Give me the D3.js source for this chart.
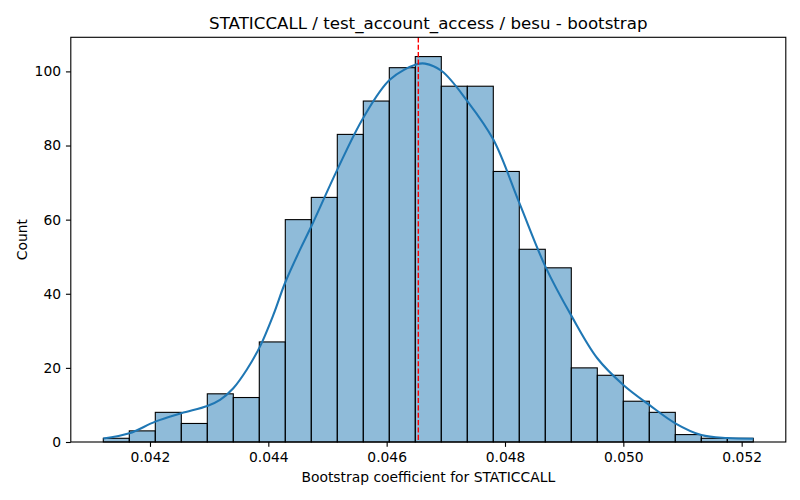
<!DOCTYPE html>
<html><head><meta charset="utf-8">
<script src="https://cdn.jsdelivr.net/npm/d3@7"></script>
<style>body{margin:0;background:#fff} svg{display:block} text{font-family:"DejaVu Sans",sans-serif}</style>
</head><body><svg id="c" width="800" height="500"></svg>
<script>
// ---- data ----
const binStart = 0.041211;
const binWidth = 0.00043942;
const counts = [1, 3, 8, 5, 13, 12, 27, 60, 66, 83, 92, 101, 104, 96, 96, 73, 52, 47, 20, 18, 11, 8, 2, 1, 1];
const kdeX = [0.041211, 0.041651, 0.042090, 0.042530, 0.042969, 0.043184, 0.043408, 0.043635, 0.043860,
              0.044085, 0.044282, 0.044536, 0.044727, 0.045166, 0.045606, 0.046057, 0.046508, 0.046649,
              0.046931, 0.047363, 0.047803, 0.048242, 0.048681, 0.049128, 0.049560, 0.050000, 0.050439,
              0.050878, 0.051318, 0.051757, 0.052197];
const kdeY = [0.95, 2.35, 5.5, 7.75, 9.7, 11.35, 14.5, 19.5, 25.8,
              34.3, 42.9, 51.9, 58.2, 73.5, 87.5, 97.8, 101.9, 102.1,
              100.1, 92, 81.6, 64.5, 47.4, 33.9, 22.6, 15.4, 10,
              5.05, 1.9, 1.08, 0.9];
const meanValue = 0.046535;
const xTicks = [0.042, 0.044, 0.046, 0.048, 0.050, 0.052];
const yTicks = [0, 20, 40, 60, 80, 100];
const title = "STATICCALL / test_account_access / besu - bootstrap";
const xLabel = "Bootstrap coefficient for STATICCALL";
const yLabel = "Count";

// ---- layout ----
const L = 70.8, R = 785.8, T = 37.3, B = 442;
const svg = d3.select("#c");

const bins = counts.map((c, i) => ({x0: binStart + i * binWidth, x1: binStart + (i + 1) * binWidth, c}));
const dataMin = bins[0].x0, dataMax = bins[bins.length - 1].x1;
const pad = (dataMax - dataMin) * 0.05;
const x = d3.scaleLinear().domain([dataMin - pad, dataMax + pad]).range([L, R]);
const yMax = d3.max(counts) * 1.05;
const y = d3.scaleLinear().domain([0, yMax]).range([B, T]);

// bars
svg.append("g").selectAll("rect").data(bins).join("rect")
  .attr("x", d => x(d.x0)).attr("width", d => x(d.x1) - x(d.x0))
  .attr("y", d => y(d.c)).attr("height", d => y(0) - y(d.c))
  .attr("fill", "#1f77b4").attr("fill-opacity", 0.5)
  .attr("stroke", "#000").attr("stroke-width", 1.1);

// kde
svg.append("path")
  .datum(kdeX.map((v, i) => [v, kdeY[i]]))
  .attr("d", d3.line().x(d => x(d[0])).y(d => y(d[1])).curve(d3.curveCatmullRom))
  .attr("fill", "none").attr("stroke", "#1f77b4").attr("stroke-width", 2.08);

// mean line
svg.append("line")
  .attr("x1", x(meanValue)).attr("x2", x(meanValue)).attr("y1", T).attr("y2", B)
  .attr("stroke", "red").attr("stroke-width", 1.39).attr("stroke-dasharray", "5.14,2.22");

// axes
const xAxis = svg.append("g").attr("transform", `translate(0,${B})`)
  .call(d3.axisBottom(x).tickValues(xTicks).tickFormat(d3.format(".3f")).tickSize(4.86).tickPadding(5));
const yAxis = svg.append("g").attr("transform", `translate(${L},0)`)
  .call(d3.axisLeft(y).tickValues(yTicks).tickFormat(d3.format("d")).tickSize(4.86).tickPadding(4.86));
[xAxis, yAxis].forEach(g => {
  g.select(".domain").remove();
  g.selectAll("line").attr("stroke", "#000").attr("stroke-width", 1.11);
  g.selectAll("text").attr("fill", "#000").style("font-size", "13.89px").style("font-family", "DejaVu Sans, sans-serif");
});

// frame
svg.append("rect").attr("x", L).attr("y", T).attr("width", R - L).attr("height", B - T)
  .attr("fill", "none").attr("stroke", "#000").attr("stroke-width", 1.11);

// labels
svg.append("text").attr("x", (L + R) / 2).attr("y", 28.5).attr("text-anchor", "middle")
  .style("font-size", "16.67px").text(title);
svg.append("text").attr("x", (L + R) / 2).attr("y", 481.5).attr("text-anchor", "middle")
  .style("font-size", "13.89px").text(xLabel);
svg.append("text").attr("transform", `translate(26.5,${(T + B) / 2}) rotate(-90)`).attr("text-anchor", "middle")
  .style("font-size", "13.89px").text(yLabel);
</script>
</body></html>
